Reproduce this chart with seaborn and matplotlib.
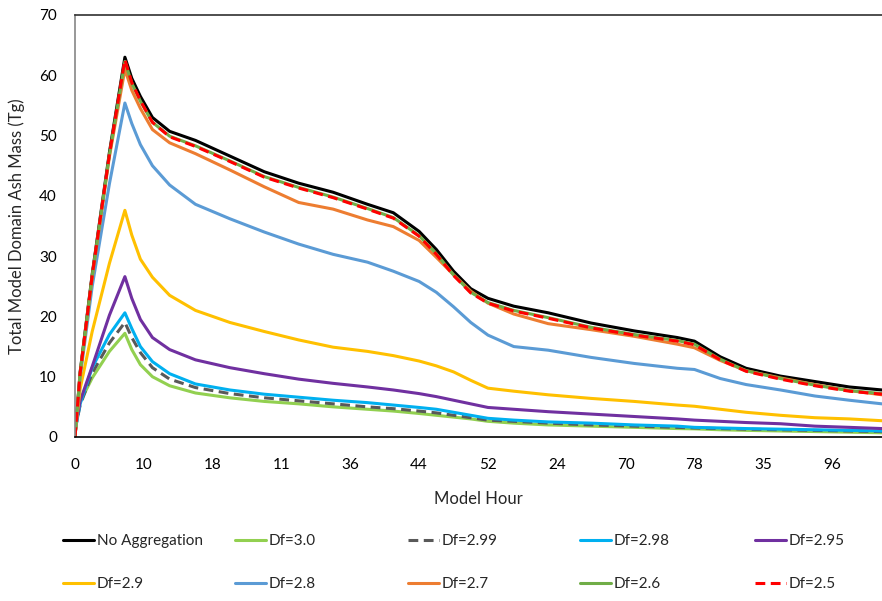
import matplotlib
matplotlib.use("Agg")
import matplotlib.pyplot as plt
from matplotlib.lines import Line2D
import numpy as np
import pandas as pd
import seaborn as sns

# Model hour at which each value was sampled
hours = [0, 0.6, 2, 4, 5.8, 6.6, 7.6, 9, 11, 14, 18, 22, 26, 30, 34, 37, 40, 42,
         44, 46, 48, 51, 55, 60, 65, 70, 72, 75, 78, 82, 86, 90, 93.8]

# Total domain ash mass (Tg) per aggregation setting
no_aggregation = [0, 10.8, 27.0, 47.2, 63.0, 59.5, 56.5, 53.0, 50.7, 49.2, 46.6, 44.0, 42.1, 40.6,
                  38.6, 37.2, 34.1, 31.1, 27.5, 24.6, 23.0, 21.7, 20.6, 18.9, 17.6, 16.5, 15.9,
                  13.3, 11.4, 10.1, 9.2, 8.3, 7.8]
df_300 = [1.5, 5.8, 9.8, 14.2, 17.2, 14.5, 12.0, 10.0, 8.5, 7.3, 6.5, 5.9, 5.5, 5.0, 4.6, 4.3,
          3.9, 3.6, 3.3, 3.0, 2.6, 2.3, 2.0, 1.8, 1.6, 1.4, 1.35, 1.2, 1.1, 1.0, 0.9, 0.8, 0.7]
df_299 = [1.2, 5.3, 10.6, 15.6, 19.0, 16.5, 14.0, 11.5, 9.6, 8.2, 7.2, 6.5, 6.0, 5.5, 5.0, 4.7,
          4.3, 4.0, 3.6, 3.2, 2.8, 2.6, 2.3, 2.0, 1.8, 1.6, 1.5, 1.4, 1.3, 1.2, 1.1, 1.0, 0.9]
df_298 = [1.0, 5.5, 11.5, 17.0, 20.6, 18.0, 15.0, 12.5, 10.5, 8.8, 7.8, 7.1, 6.6, 6.1, 5.7, 5.3,
          4.9, 4.6, 4.1, 3.6, 3.1, 2.8, 2.5, 2.3, 2.0, 1.8, 1.6, 1.5, 1.4, 1.3, 1.2, 1.1, 1.0]
df_295 = [1.0, 6.0, 11.7, 20.2, 26.6, 23.0, 19.5, 16.5, 14.5, 12.8, 11.5, 10.5, 9.6, 8.9, 8.3,
          7.8, 7.2, 6.7, 6.1, 5.5, 4.9, 4.6, 4.2, 3.8, 3.4, 3.0, 2.8, 2.6, 2.4, 2.2, 1.8, 1.6, 1.4]
df_290 = [0.5, 8.0, 17.5, 28.8, 37.6, 33.5, 29.5, 26.5, 23.5, 21.0, 19.0, 17.5, 16.1, 14.9, 14.2,
          13.5, 12.6, 11.8, 10.8, 9.4, 8.1, 7.6, 7.0, 6.4, 5.9, 5.3, 5.1, 4.6, 4.1, 3.6, 3.2, 3.0, 2.7]
df_280 = [0, 10.0, 25.0, 42.0, 55.4, 52.0, 48.5, 45.0, 41.8, 38.6, 36.2, 34.0, 32.0, 30.3, 29.0,
          27.5, 25.8, 24.0, 21.6, 19.0, 16.9, 15.0, 14.4, 13.2, 12.2, 11.4, 11.2, 9.7, 8.7, 7.8,
          6.8, 6.1, 5.5]
df_270 = [0, 10.5, 26.5, 46.5, 61.0, 57.5, 54.5, 51.0, 48.8, 47.0, 44.3, 41.5, 38.9, 37.8, 36.0,
          34.9, 32.6, 29.8, 26.9, 24.2, 22.2, 20.4, 18.8, 17.8, 16.7, 15.4, 14.8, 12.7, 11.0, 9.8,
          8.7, 7.7, 7.0]
df_260 = [0, 10.6, 26.7, 46.8, 62.3, 58.7, 55.7, 52.2, 49.9, 48.3, 45.8, 43.2, 41.4, 39.8, 37.9,
          36.4, 33.4, 30.4, 26.9, 24.0, 22.3, 21.0, 19.8, 18.2, 17.0, 16.0, 15.4, 12.9, 11.0, 9.7,
          8.6, 7.7, 7.2]
df_250 = [0, 10.6, 26.8, 46.9, 62.6, 58.8, 55.8, 52.2, 49.8, 48.2, 45.7, 43.1, 41.3, 39.7, 37.8,
          36.3, 33.3, 30.3, 26.8, 23.9, 22.2, 20.9, 19.7, 18.1, 16.9, 15.9, 15.3, 12.8, 10.9, 9.6,
          8.5, 7.6, 7.1]

series_names = ["No Aggregation", "Df=3.0", "Df=2.99", "Df=2.98", "Df=2.95",
                "Df=2.9", "Df=2.8", "Df=2.7", "Df=2.6", "Df=2.5"]
series_values = [no_aggregation, df_300, df_299, df_298, df_295,
                 df_290, df_280, df_270, df_260, df_250]

tick_positions = [0, 8, 16, 24, 32, 40, 48, 56, 64, 72, 80, 88]
tick_labels = ["0", "10", "18", "11", "36", "44", "52", "24", "70", "78", "35", "96"]

colors = {
    "No Aggregation": "#000000",
    "Df=3.0": "#92D050",
    "Df=2.99": "#595959",
    "Df=2.98": "#00B0F0",
    "Df=2.95": "#7030A0",
    "Df=2.9": "#FFC000",
    "Df=2.8": "#5B9BD5",
    "Df=2.7": "#ED7D31",
    "Df=2.6": "#70AD47",
    "Df=2.5": "#FF0000",
}
dash_pattern = (3.2, 1.8)
dashes = {name: "" for name in series_names}
dashes["Df=2.99"] = dash_pattern
dashes["Df=2.5"] = dash_pattern

frame = pd.DataFrame({
    "hour": np.tile(hours, len(series_names)),
    "mass": np.concatenate(series_values),
    "series": np.repeat(series_names, len(hours)),
})

sns.set_theme(style="white")
plt.rcParams["font.family"] = ["Lato", "DejaVu Sans"]

fig = plt.figure(figsize=(8.82, 6.01), dpi=100)
ax = fig.add_axes([75 / 882, 164 / 601, 1 - 75 / 882, 422 / 601])

lw = 2.2
sns.lineplot(data=frame, x="hour", y="mass", hue="series", style="series",
             hue_order=series_names, style_order=series_names,
             palette=colors, dashes=dashes, linewidth=lw, legend=False,
             estimator=None, sort=False, ax=ax)

ax.set_xlim(0, 93.8)
ax.set_ylim(0, 70)
ax.set_yticks(range(0, 71, 10))
ax.set_xticks(tick_positions)
ax.set_xticklabels(tick_labels)
ax.tick_params(axis="both", direction="in", length=5, width=1, colors="#404040",
               labelcolor="black", labelsize=11)
ax.tick_params(axis="x", pad=15)
ax.tick_params(axis="y", pad=13)
ax.set_xlabel("Model Hour", fontsize=12, labelpad=14)
ax.set_ylabel("Total Model Domain Ash Mass (Tg)", fontsize=12, labelpad=10)

ax.spines["right"].set_visible(False)
ax.spines["left"].set_color("#868686")
ax.spines["left"].set_linewidth(1.2)
ax.spines["bottom"].set_color("#000000")
ax.spines["bottom"].set_linewidth(1.2)
ax.spines["top"].set_color("#303030")
ax.spines["top"].set_linewidth(1.2)
ax.grid(False)

# Legend: two rows of five evenly spaced entries
col_x = [63 / 882, 235 / 882, 408 / 882, 580 / 882, 755 / 882]
row_y = [1 - 541 / 601, 1 - 584 / 601]
for i, name in enumerate(series_names):
    handle = Line2D([], [], color=colors[name], linewidth=lw,
                    dashes=dashes[name] if dashes[name] else (None, None))
    if not dashes[name]:
        handle = Line2D([], [], color=colors[name], linewidth=lw)
    fig.legend(handles=[handle], labels=[name], loc="center left",
               bbox_to_anchor=(col_x[i % 5], row_y[i // 5]), frameon=False,
               borderpad=0, borderaxespad=0, handlelength=2.0,
               handletextpad=0.2, fontsize=11)

fig.savefig("out.png", dpi=100)
